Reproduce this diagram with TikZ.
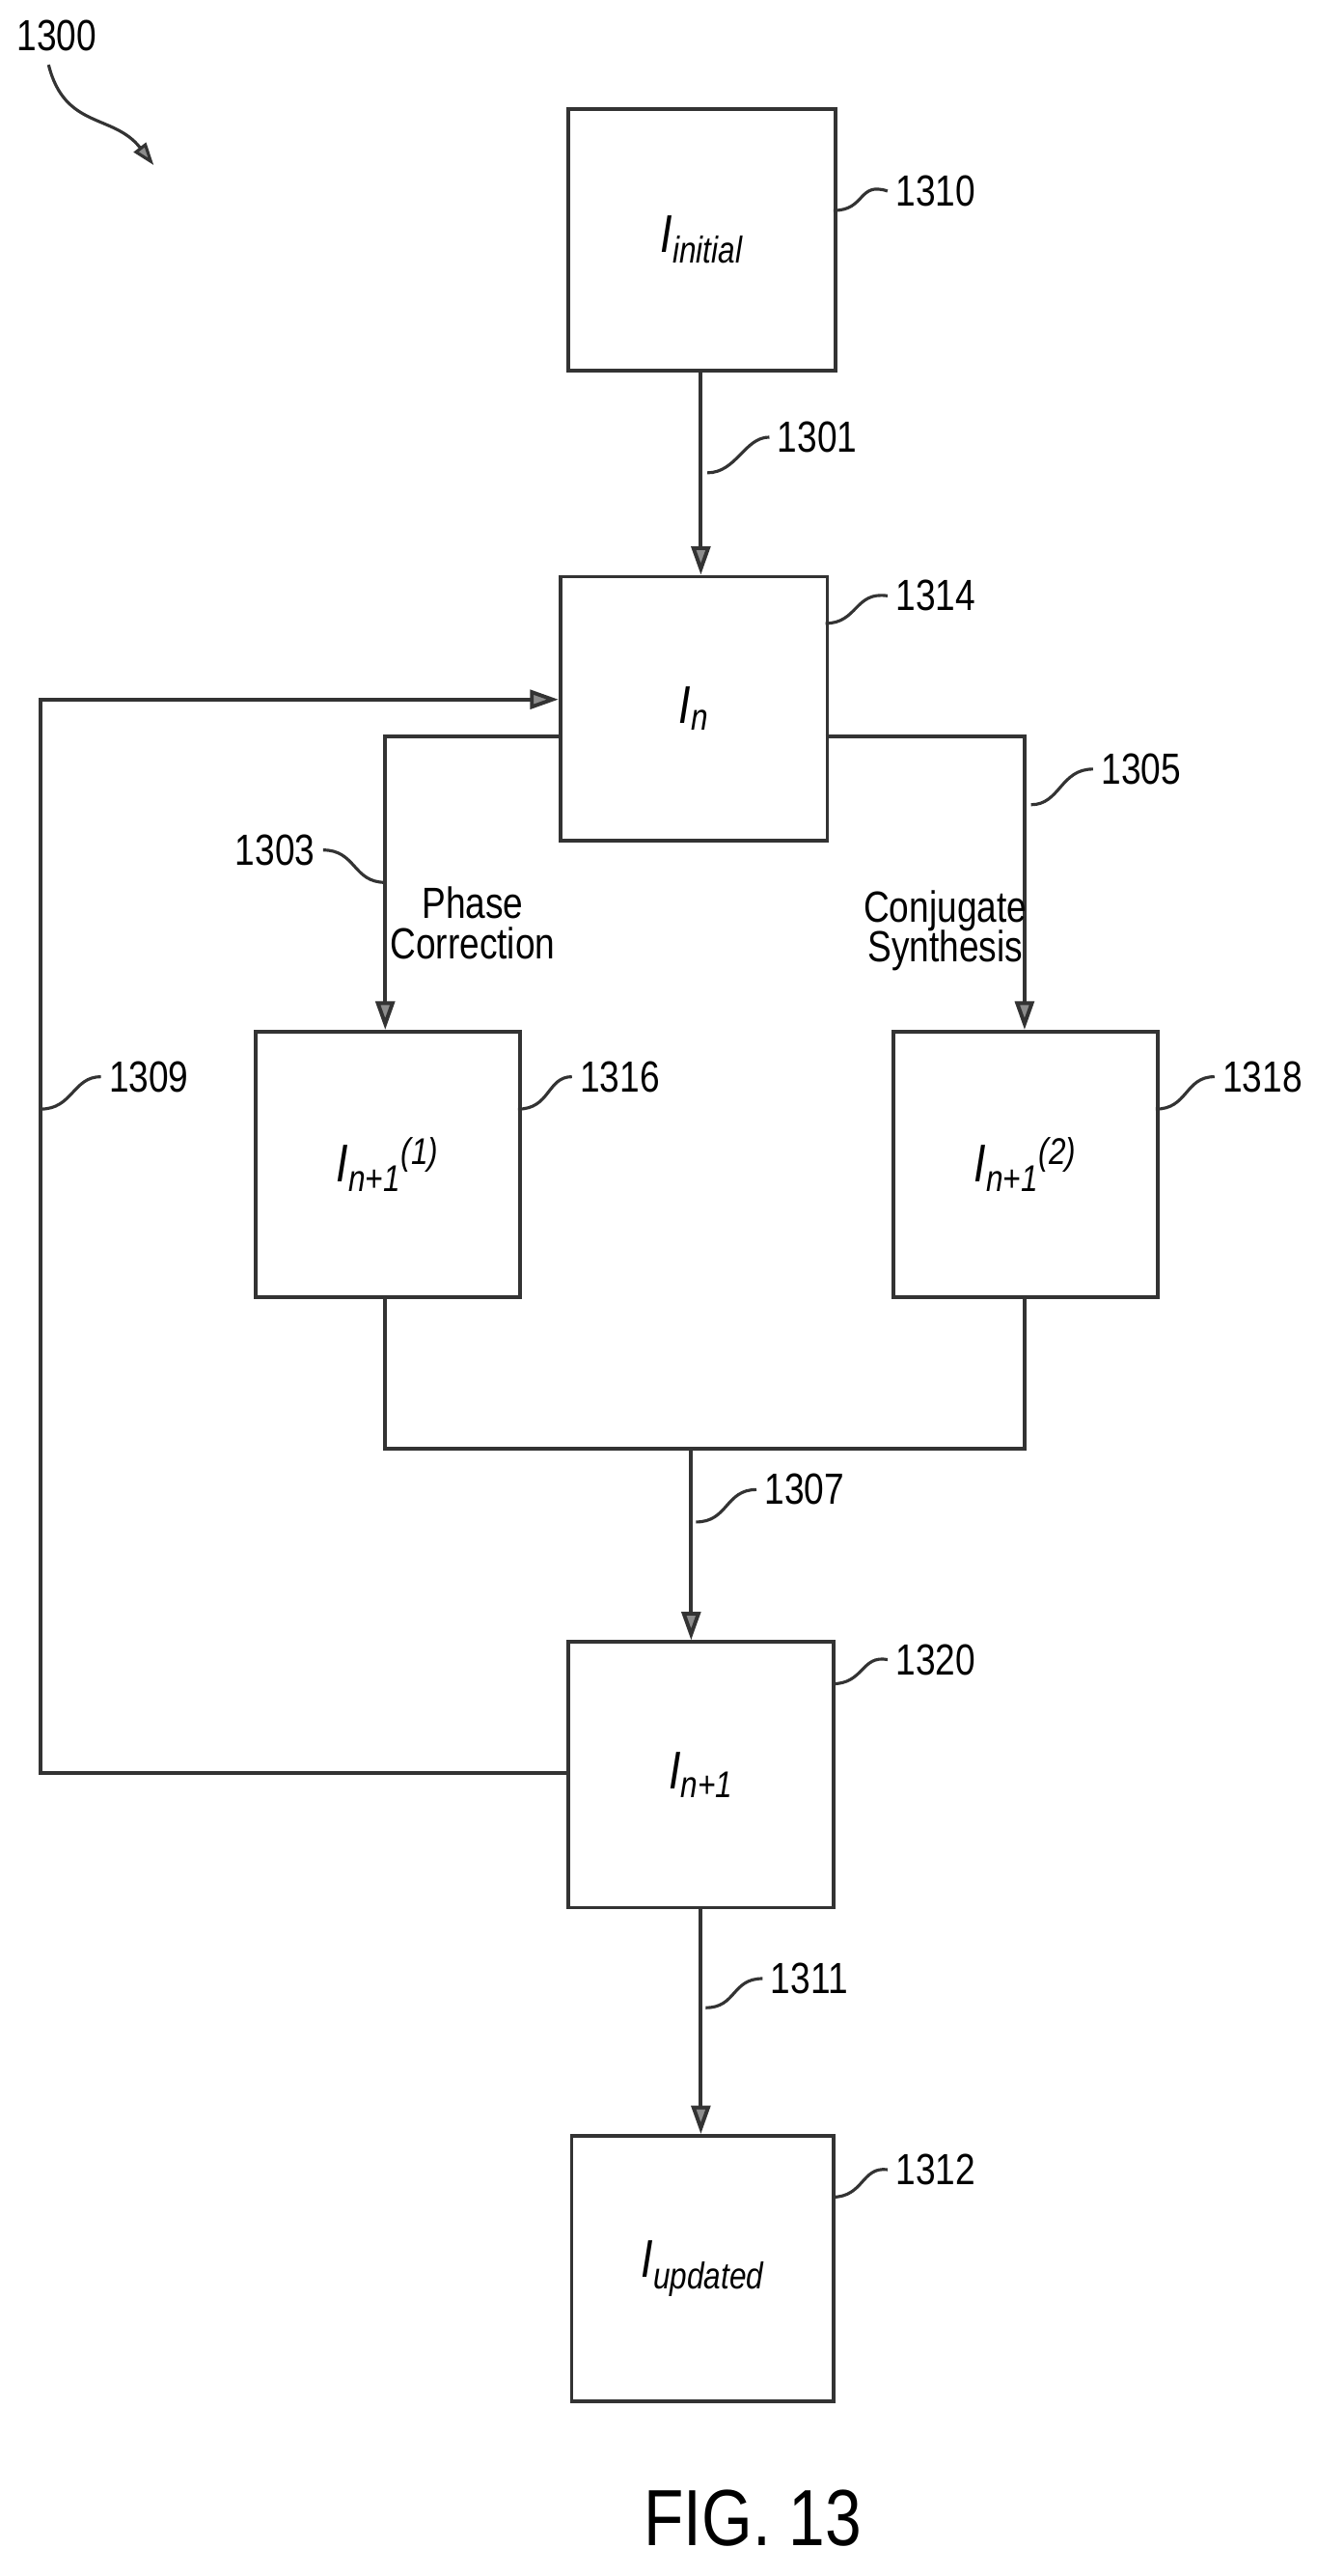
\documentclass[tikz,border=0pt]{standalone}
\usepackage{fontspec}
\setmainfont{Liberation Sans}[FakeStretch=0.82]
\usetikzlibrary{arrows.meta}
\begin{document}
\begin{tikzpicture}[x=0.03cm,y=-0.03cm,line width=2pt,
  ln/.style={draw=black!80},
  arr/.style={ln,-{Triangle[length=15pt,width=10pt,fill=black!45]}},
  box/.style={draw=black!80,rectangle,anchor=north west,inner sep=0pt},
  num/.style={font=\fontsize{23}{27}\selectfont},
  lab/.style={font=\fontsize{28}{32}\selectfont\itshape},
  lead/.style={draw=black!80,line width=1.6pt}]
\useasboundingbox (0,0) rectangle (830,1591);
% boxes
\node[box,minimum width=165*0.03cm,minimum height=162*0.03cm] (b1310) at (350,66) {};
\node[box,minimum width=165*0.03cm,minimum height=163*0.03cm] (b1314) at (345,355) {};
\node[box,minimum width=163*0.03cm,minimum height=164*0.03cm] (b1316) at (157,636) {};
\node[box,minimum width=163*0.03cm,minimum height=164*0.03cm] (b1318) at (551,636) {};
\node[box,minimum width=164*0.03cm,minimum height=164*0.03cm] (b1320) at (350,1013) {};
\node[box,minimum width=162*0.03cm,minimum height=164*0.03cm] (b1312) at (352,1318) {};
% box texts
\node[lab] (t1) at (b1310.center) {I\textsubscript{initial}};
\node[lab] (t2) at (b1314.center) {I\textsubscript{n}};
\node[lab] (t3) at (b1316.center) {I\textsubscript{n+1}\textsuperscript{(1)}};
\node[lab] (t4) at (b1318.center) {I\textsubscript{n+1}\textsuperscript{(2)}};
\node[lab] (t5) at (b1320.center) {I\textsubscript{n+1}};
\node[lab] (t6) at (b1312.center) {I\textsubscript{updated}};
% coordinates
\coordinate (a1) at (433,228); \coordinate (a2) at (433,355);
\coordinate (l1) at (345,455); \coordinate (l2) at (238,455); \coordinate (l3) at (238,636);
\coordinate (r1) at (510,455); \coordinate (r2) at (633,455); \coordinate (r3) at (633,636);
\coordinate (m1) at (238,800); \coordinate (m2) at (238,895); \coordinate (m3) at (633,895); \coordinate (m4) at (633,800);
\coordinate (m5) at (427,895); \coordinate (m6) at (427,1013);
\coordinate (f1) at (350,1095); \coordinate (f2) at (25,1095); \coordinate (f3) at (25,432); \coordinate (f4) at (345,432);
\coordinate (u1) at (433,1177); \coordinate (u2) at (433,1318);
\draw[arr] (a1) -- (a2);
\draw[arr] (l1) -- (l2) -- (l3);
\draw[arr] (r1) -- (r2) -- (r3);
\draw[ln] (m1) -- (m2) -- (m3) -- (m4);
\draw[arr] (m5) -- (m6);
\draw[arr] (f1) -- (f2) -- (f3) -- (f4);
\draw[arr] (u1) -- (u2);
% edge labels
\node[num,align=center] (pc) at (292,570) {Phase\\[-6pt]Correction};
\node[num,align=center] (cs) at (584,575) {Conjugate\\[-6pt]Synthesis};
% reference numerals with leaders
\node[num] (n1300) at (35,22) {1300};
\draw[lead,-{Triangle[length=12pt,width=8pt,fill=black!45]}] (30,40) .. controls (40,80) and (70,70) .. (95,102);
\node[num] (n1310) at (578,118) {1310};
\draw[lead] (515,130) .. controls (535,130) and (530,112) .. (n1310.west);
\node[num] (n1301) at (505,270) {1301};
\draw[lead] (437,292) .. controls (455,292) and (460,270) .. (n1301.west);
\node[num] (n1314) at (578,368) {1314};
\draw[lead] (510,385) .. controls (530,385) and (528,365) .. (n1314.west);
\node[num] (n1303) at (170,525) {1303};
\draw[lead] (n1303.east) .. controls (220,525) and (218,545) .. (238,545);
\node[num] (n1305) at (705,475) {1305};
\draw[lead] (637,497) .. controls (655,497) and (655,475) .. (n1305.west);
\node[num] (n1309) at (92,665) {1309};
\draw[lead] (25,685) .. controls (45,685) and (45,665) .. (n1309.west);
\node[num] (n1316) at (383,665) {1316};
\draw[lead] (320,685) .. controls (340,685) and (338,665) .. (n1316.west);
\node[num] (n1318) at (780,665) {1318};
\draw[lead] (714,685) .. controls (734,685) and (732,665) .. (n1318.west);
\node[num] (n1307) at (497,920) {1307};
\draw[lead] (430,940) .. controls (450,940) and (448,920) .. (n1307.west);
\node[num] (n1320) at (578,1025) {1320};
\draw[lead] (514,1040) .. controls (534,1040) and (532,1022) .. (n1320.west);
\node[num] (n1311) at (500,1222) {1311};
\draw[lead] (436,1240) .. controls (455,1240) and (452,1222) .. (n1311.west);
\node[num] (n1312) at (578,1340) {1312};
\draw[lead] (514,1357) .. controls (534,1357) and (532,1338) .. (n1312.west);
\node[font=\fontsize{42}{48}\selectfont] (fig) at (465,1555) {FIG. 13};
\end{tikzpicture}
\end{document}
